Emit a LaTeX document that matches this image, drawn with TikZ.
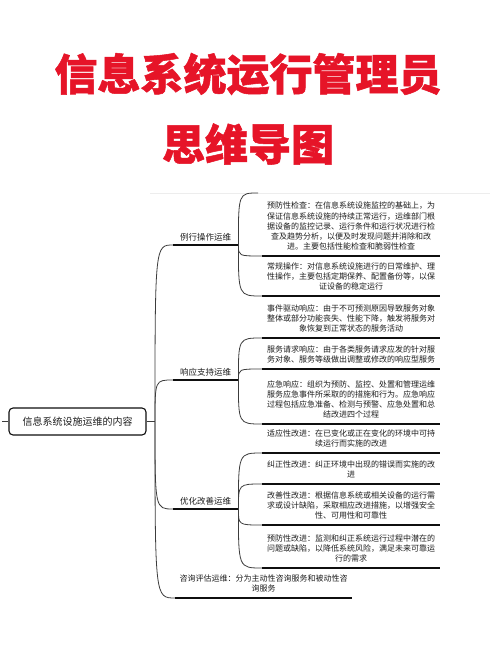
\documentclass[tikz,border=0pt]{standalone}
\usepackage{fontspec}
\newfontfamily\cjk{Noto Sans CJK SC}
\newfontfamily\headfont{Noto Sans CJK SC}[BoldFeatures={FakeBold=1.2}]
\definecolor{titlered}{RGB}{230,20,40}
\definecolor{textgray}{RGB}{30,30,30}
\definecolor{linedark}{RGB}{15,15,15}
\definecolor{linkgray}{RGB}{60,60,60}

\begin{document}
\begin{tikzpicture}[
    x=1pt, y=-1pt,
    headline/.style={font=\headfont\bfseries\fontsize{43}{48}\selectfont, text=titlered, inner sep=0pt},
    rootbox/.style={draw=linedark, line width=1.1pt, rounded corners=4pt, minimum width=137pt, minimum height=27pt, inner sep=0pt, font=\cjk\fontsize{10}{12}\selectfont, text=textgray},
    topic/.style={anchor=south west, minimum width=65pt, inner xsep=0pt, inner ysep=1.7pt, font=\cjk\fontsize{8.5}{10.2}\selectfont, text=textgray, execute at end node=\strut},
    leaf/.style={anchor=south west, text width=170pt, inner xsep=4pt, inner ysep=3pt, align=center, font=\cjk\fontsize{8}{10.2}\selectfont, text=textgray, execute at end node=\strut},
    uline/.style={draw=linedark, line width=1.8pt},
    link/.style={draw=linkgray, line width=0.8pt}
]
\useasboundingbox[fill=white] (0,0) rectangle (500,652);

% Title
\node[headline] (head1) at (248,74) {信息系统运行管理员};
\node[headline] (head2) at (248,144) {思维导图};

% Root and trunk
\node[rootbox] (root) at (77.5,421.5) {信息系统设施运维的内容};
\coordinate (stub) at (2,421.5);
\coordinate (hub) at (155,421.5);
\coordinate (cut) at (258,193);
\draw[black!7, line width=0.6pt] (150,193) -- (490,193);
\draw[link] (stub) -- (root.west);
\draw[link] (root.east) -- (hub);

% Main topics
\node[topic] (routine) at (173,245) {例行操作运维};
\node[topic] (respond) at (173,380) {响应支持运维};
\node[topic] (improve) at (173,509) {优化改善运维};
\node[leaf, text width=169pt] (consult) at (175,598) {咨询评估运维：分为主动性咨询服务和被动性咨\\询服务};

% Leaves
\node[leaf] (prevcheck) at (262,256) {预防性检查：在信息系统设施监控的基础上，为\\保证信息系统设施的持续正常运行，运维部门根\\据设备的监控记录、运行条件和运行状况进行检\\查及趋势分析，以便及时发现问题并消除和改\\进。主要包括性能检查和脆弱性检查};
\node[leaf] (dailyop) at (262,296) {常规操作：对信息系统设施进行的日常维护、理\\性操作，主要包括定期保养、配置备份等，以保\\证设备的稳定运行};
\node[leaf] (eventresp) at (262,338) {事件驱动响应：由于不可预测原因导致服务对象\\整体或部分功能丧失、性能下降，触发将服务对\\象恢复到正常状态的服务活动};
\node[leaf] (reqresp) at (262,369) {服务请求响应：由于各类服务请求应发的针对服\\务对象、服务等级做出调整或修改的响应型服务};
\node[leaf] (emergresp) at (262,424) {应急响应：组织为预防、监控、处置和管理运维\\服务应急事件所采取的的措施和行为。应急响应\\过程包括应急准备、检测与预警、应急处置和总\\结改进四个过程};
\node[leaf] (adaptimp) at (262,453) {适应性改进：在已变化或正在变化的环境中可持\\续运行而实施的改进};
\node[leaf] (correctimp) at (262,484) {纠正性改进：纠正环境中出现的错误而实施的改\\进};
\node[leaf] (perfimp) at (262,525) {改善性改进：根据信息系统或相关设备的运行需\\求或设计缺陷，采取相应改进措施，以增强安全\\性、可用性和可靠性};
\node[leaf] (previmp) at (262,568) {预防性改进：监测和纠正系统运行过程中潜在的\\问题或缺陷，以降低系统风险，满足未来可靠运\\行的需求};

% Underlines
\foreach \n in {routine,respond,improve,consult,prevcheck,dailyop,eventresp,reqresp,emergresp,adaptimp,correctimp,perfimp,previmp}
  \draw[uline] (\n.south west) -- (\n.south east);

% Connectors from the trunk
\foreach \n in {routine,respond,improve,consult}
  \draw[link] (hub) .. controls (hub |- \n.south west) .. (\n.south west);

% Connectors to the leaves
\foreach \p/\c in {routine/prevcheck, routine/dailyop, respond/eventresp, respond/reqresp, respond/emergresp, improve/adaptimp, improve/correctimp, improve/perfimp, improve/previmp}
  \draw[link] (\p.south east) .. controls (\p.south east |- \c.south west) .. (\c.south west);
\draw[link] (routine.south east) .. controls (routine.south east |- cut) .. (cut);

\end{tikzpicture}
\end{document}
